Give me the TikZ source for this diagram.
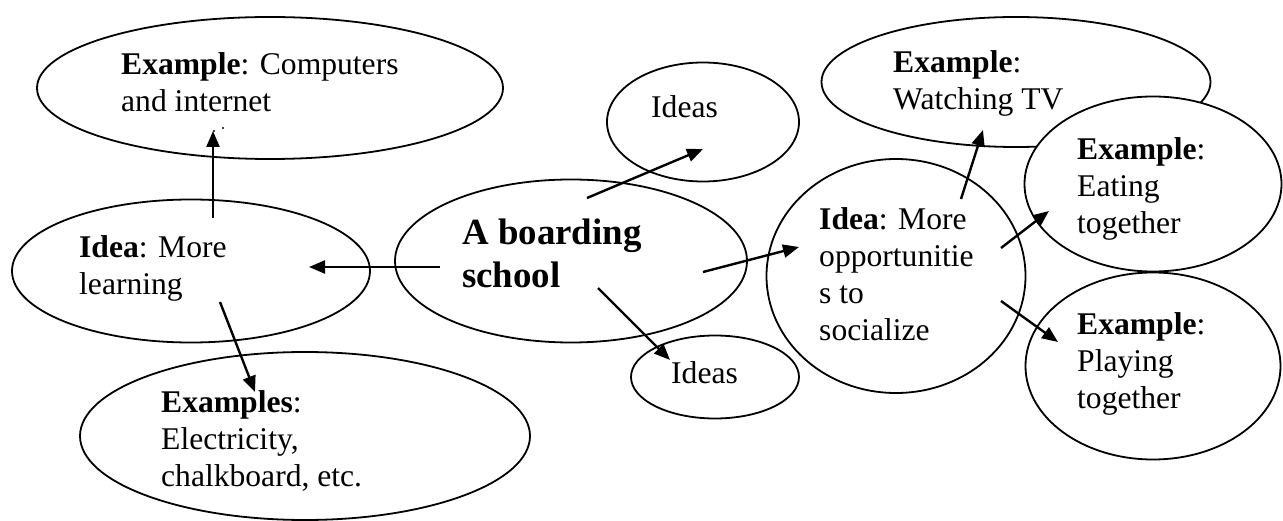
\documentclass[tikz,border=0pt]{standalone}
\usepackage{fontspec}
\setmainfont{Liberation Serif}
\usetikzlibrary{shapes.geometric,arrows.meta}
\tikzset{
  bub/.style={draw, ellipse, line width=1.8pt, inner sep=0pt, outer sep=0pt},
  lbl/.style={anchor=base west, inner sep=0pt, font=\fontsize{31.6}{36.8}\selectfont},
  big/.style={anchor=base west, inner sep=0pt, font=\fontsize{36.9}{43}\selectfont\bfseries},
  arr/.style={line width=2.4pt, -{Triangle[length=16pt,width=13pt]}},
}
\newcommand{\Lines}[1]{\begin{tabular}[t]{@{}l@{}}#1\end{tabular}}
\begin{document}
\begin{tikzpicture}[x=1pt,y=-1pt]
  \useasboundingbox (0,0) rectangle (1283,521);

  % bubbles
  \node[bub, minimum width=466pt, minimum height=142pt] (ex1)   at (270,88)  {};
  \node[bub, minimum width=358pt, minimum height=143pt] (learn) at (191,271) {};
  \node[bub, minimum width=450pt, minimum height=168pt] (ex3)   at (305,436) {};
  \node[bub, minimum width=352pt, minimum height=163pt] (main)  at (571,261) {};
  \node[bub, minimum width=192pt, minimum height=119pt] (idA)   at (703,122) {};
  \node[bub, minimum width=168pt, minimum height=83pt]  (idB)   at (715,377) {};
  \node[bub, minimum width=259pt, minimum height=234pt] (soc)   at (896,276) {};
  \node[bub, minimum width=389pt, minimum height=130pt] (tv)    at (1016,82) {};
  \node[bub, fill=white, minimum width=257pt, minimum height=175pt] (eat)  at (1153,184) {};
  \node[bub, minimum width=255pt, minimum height=187pt] (play)  at (1153,366) {};

  % texts
  \node[lbl] (t-ex1)   at (121,75)  {\Lines{\textbf{Example}: Computers\\and internet}};
  \node[lbl] (t-learn) at (79,258)  {\Lines{\textbf{Idea}: More\\learning}};
  \node[lbl] (t-ex3)   at (161,413) {\Lines{\textbf{Examples}:\\Electricity,\\chalkboard, etc.}};
  \node[big] (t-main)  at (462,245) {\Lines{A boarding\\school}};
  \node[lbl] (t-idA)   at (651,118) {Ideas};
  \node[lbl] (t-idB)   at (671,384) {Ideas};
  \node[lbl] (t-soc)   at (819,230) {\Lines{\textbf{Idea}: More\\opportunitie\\s to\\socialize}};
  \node[lbl] (t-tv)    at (893,73)  {\Lines{\textbf{Example}:\\Watching TV}};
  \node[lbl] (t-eat)   at (1077,160) {\Lines{\textbf{Example}:\\Eating\\together}};
  \node[lbl] (t-play)  at (1077,335) {\Lines{\textbf{Example}:\\Playing\\together}};

  % stray dots under "and internet"
  \fill (214,131) circle (1.2pt);
  \fill (223,128) circle (1.2pt);

  % connector end points
  \coordinate (a1s) at (213,218);  \coordinate (a1e) at (213,131);
  \coordinate (a2s) at (440,267);  \coordinate (a2e) at (309,267);
  \coordinate (a3s) at (220,302);  \coordinate (a3e) at (255,392);
  \coordinate (a4s) at (587,198);  \coordinate (a4e) at (703,149);
  \coordinate (a5s) at (598,288);  \coordinate (a5e) at (670,360);
  \coordinate (a6s) at (703,272);  \coordinate (a6e) at (799,247);
  \coordinate (a7s) at (961,199);  \coordinate (a7e) at (983,130);
  \coordinate (a8s) at (1001,248); \coordinate (a8e) at (1049,211);
  \coordinate (a9s) at (1001,301); \coordinate (a9e) at (1058,342);

  % connectors
  \draw[arr] (a1s) -- (a1e);
  \draw[arr] (a2s) -- (a2e);
  \draw[arr] (a3s) -- (a3e);
  \draw[arr] (a4s) -- (a4e);
  \draw[arr] (a5s) -- (a5e);
  \draw[arr] (a6s) -- (a6e);
  \draw[arr] (a7s) -- (a7e);
  \draw[arr] (a8s) -- (a8e);
  \draw[arr] (a9s) -- (a9e);
\end{tikzpicture}
\end{document}
